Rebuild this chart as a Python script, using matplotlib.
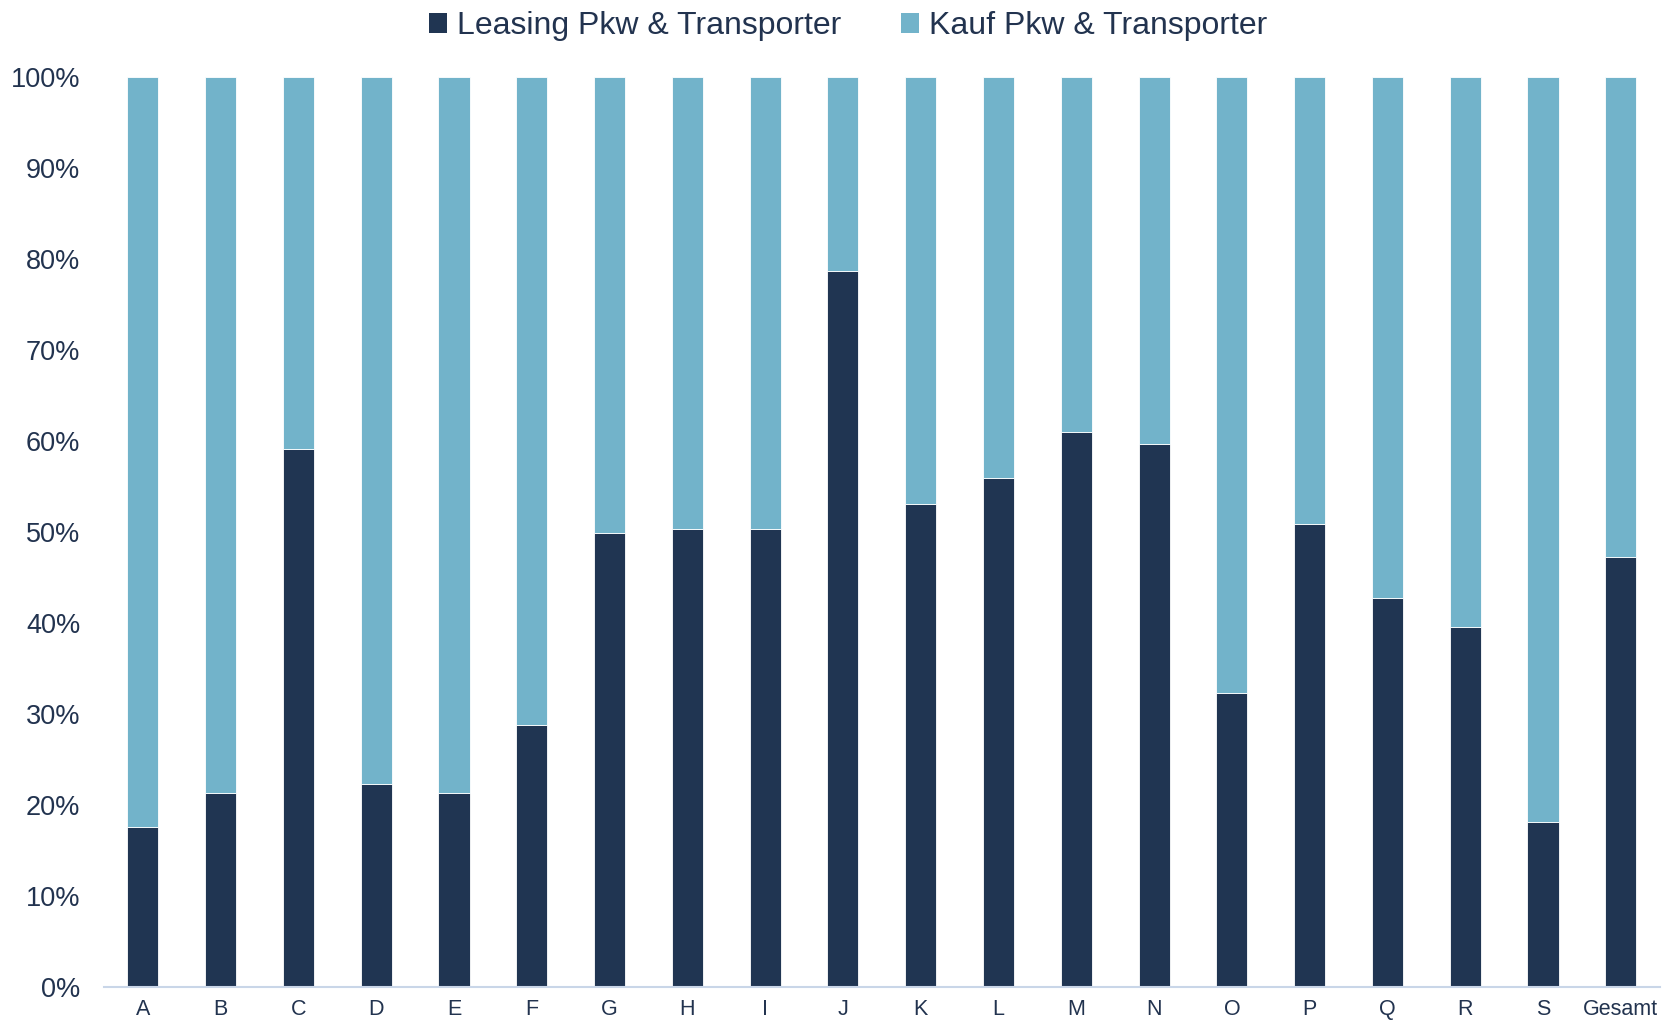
import matplotlib
matplotlib.use("Agg")
import matplotlib.pyplot as plt
from matplotlib.patches import Patch
from matplotlib.ticker import FuncFormatter, MultipleLocator

categories = ["A", "B", "C", "D", "E", "F", "G", "H", "I", "J", "K", "L", "M",
              "N", "O", "P", "Q", "R", "S", "Gesamt"]
leasing = [17.6, 21.3, 59.1, 22.3, 21.3, 28.8, 49.9, 50.3, 50.3, 78.7, 53.1,
           55.9, 61.0, 59.7, 32.3, 50.9, 42.7, 39.6, 18.1, 47.3]
kauf = [100 - v for v in leasing]
series_names = ["Leasing Pkw & Transporter", "Kauf Pkw & Transporter"]

dark = "#203552"
light = "#72B3CA"
text_col = "#22334f"

plt.rcParams["font.family"] = ["Liberation Sans", "DejaVu Sans"]

fig = plt.figure(figsize=(16.63, 10.23), dpi=100)
ax = fig.add_axes([0.0625, 0.0352, 0.9355, 0.8895])

x = list(range(len(categories)))
ax.bar(x, leasing, width=0.4, color=dark, edgecolor="white", linewidth=0.6)
ax.bar(x, kauf, width=0.4, bottom=leasing, color=light, edgecolor="white", linewidth=0.6)

ax.set_xlim(-0.5, len(categories) - 0.5)
ax.set_ylim(0, 100)
ax.yaxis.set_major_locator(MultipleLocator(10))
ax.yaxis.set_major_formatter(FuncFormatter(lambda v, p: f"{int(round(v))}%"))
ax.set_xticks(x)
ax.set_xticklabels(categories)

for s in ["top", "right", "left"]:
    ax.spines[s].set_visible(False)
ax.spines["bottom"].set_color("#c9d6e8")
ax.spines["bottom"].set_linewidth(1.5)

ax.tick_params(axis="y", length=0, pad=17, labelsize=19.5, labelcolor=text_col)
ax.tick_params(axis="x", length=0, pad=9, labelsize=15.5, labelcolor=text_col)

handles = [Patch(facecolor=dark), Patch(facecolor=light)]
fig.legend(handles, series_names, loc="upper center", bbox_to_anchor=(0.51, 1.017),
           ncol=2, frameon=False, fontsize=23, labelcolor=text_col,
           handlelength=0.55, handleheight=0.55, handletextpad=0.3, columnspacing=1.9)

fig.savefig("out.png", dpi=100)
